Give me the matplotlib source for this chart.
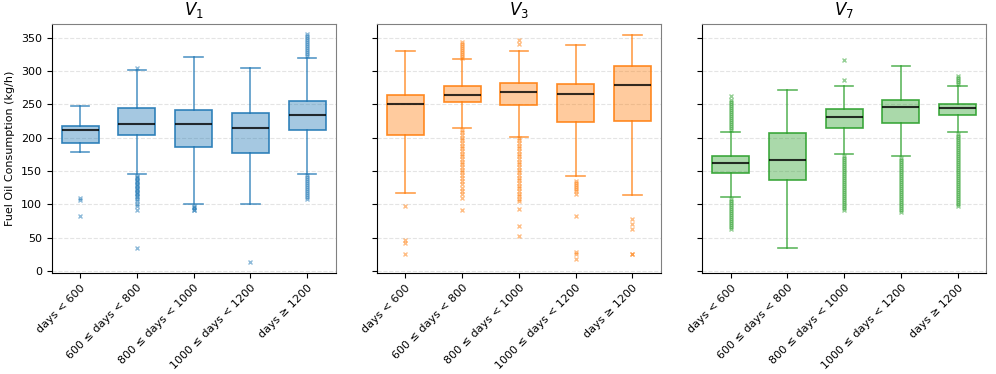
import matplotlib
matplotlib.use("Agg")
import matplotlib.pyplot as plt
from matplotlib.colors import to_rgba

# Catégories de durée
categories = ["days < 600", "600 ≤ days < 800", "800 ≤ days < 1000",
              "1000 ≤ days < 1200", "days ≥ 1200"]
vessels = ["$V_1$", "$V_3$", "$V_7$"]
colors = ["tab:blue", "tab:orange", "tab:green"]

# Statistiques : (q1, médiane, q3, moustache basse, moustache haute)
v1_q1 = [192, 204, 186, 177, 211]
v1_med = [212, 220, 221, 215, 234]
v1_q3 = [217, 244, 242, 237, 255]
v1_lo = [178, 145, 100, 101, 146]
v1_hi = [248, 301, 321, 305, 320]

v3_q1 = [204, 253, 249, 223, 225]
v3_med = [251, 264, 269, 266, 279]
v3_q3 = [264, 278, 282, 281, 307]
v3_lo = [117, 214, 201, 143, 114]
v3_hi = [330, 318, 330, 339, 354]

v7_q1 = [147, 137, 215, 222, 234]
v7_med = [162, 166, 231, 246, 245]
v7_q3 = [172, 207, 243, 257, 251]
v7_lo = [111, 35, 175, 172, 208]
v7_hi = [208, 272, 277, 308, 277]

# Valeurs aberrantes
v1_fliers = [
    [109, 106, 83],
    [305, 143, 141, 139, 137, 135, 133, 131, 129, 127, 125, 123, 121, 119,
     117, 115, 113, 111, 108, 105, 101, 97, 91, 35],
    [98, 96, 94, 92, 91],
    [13],
    [322, 325, 328, 331, 334, 337, 340, 343, 346, 349, 352, 355,
     144, 141, 138, 135, 132, 129, 126, 123, 120, 117, 114, 111, 108],
]
v3_fliers = [
    [97, 46, 42, 26],
    [320, 323, 326, 329, 332, 335, 338, 341, 344,
     212, 208, 204, 200, 196, 192, 188, 184, 180, 176, 172, 168, 164, 160,
     156, 152, 148, 144, 140, 135, 130, 125, 120, 115, 110, 91],
    [346, 340, 200, 196, 192, 188, 184, 180, 176, 172, 168, 164, 160, 156,
     152, 148, 144, 140, 136, 132, 128, 124, 120, 116, 112, 108, 105, 93,
     67, 53],
    [135, 132, 129, 126, 123, 120, 116, 82, 28, 26, 18],
    [78, 71, 63, 26, 25],
]
v7_fliers = [
    [211, 214, 217, 220, 223, 226, 229, 232, 235, 238, 241, 244, 247, 250,
     253, 256, 262, 108, 105, 102, 99, 96, 93, 90, 87, 84, 81, 78, 75, 72,
     69, 66, 63],
    [],
    [317, 286, 172, 169, 166, 163, 160, 157, 154, 151, 148, 145, 142, 139,
     136, 133, 130, 127, 124, 121, 118, 115, 112, 109, 106, 103, 100, 97,
     94, 92],
    [170, 167, 164, 161, 158, 155, 152, 149, 146, 143, 140, 137, 134, 131,
     128, 125, 122, 119, 116, 113, 110, 107, 104, 101, 98, 95, 92, 89],
    [280, 283, 286, 289, 292, 205, 202, 199, 196, 193, 190, 187, 184, 181,
     178, 175, 172, 169, 166, 163, 160, 157, 154, 151, 148, 145, 142, 139,
     136, 133, 130, 127, 124, 121, 118, 115, 112, 109, 106, 103, 100, 97],
]

data = [
    (v1_q1, v1_med, v1_q3, v1_lo, v1_hi, v1_fliers),
    (v3_q1, v3_med, v3_q3, v3_lo, v3_hi, v3_fliers),
    (v7_q1, v7_med, v7_q3, v7_lo, v7_hi, v7_fliers),
]

fig, axes = plt.subplots(1, 3, figsize=(9.96, 3.74), dpi=100, sharey=True)
fig.subplots_adjust(left=0.052, right=0.99, top=0.937, bottom=0.27, wspace=0.146)

for ax, name, col, (q1, med, q3, lo, hi, fl) in zip(axes, vessels, colors, data):
    stats = []
    for i in range(len(categories)):
        stats.append(dict(q1=q1[i], med=med[i], q3=q3[i], whislo=lo[i],
                          whishi=hi[i], fliers=fl[i], label=categories[i]))
    ax.bxp(stats, widths=0.65, patch_artist=True,
           boxprops=dict(facecolor=to_rgba(col, 0.4), edgecolor=to_rgba(col, 0.9), linewidth=1.2),
           whiskerprops=dict(color=col, alpha=0.75, linewidth=1.2),
           capprops=dict(color=col, alpha=0.75, linewidth=1.2),
           medianprops=dict(color="black", alpha=0.8, linewidth=1.5),
           flierprops=dict(marker="x", markersize=3, markeredgecolor=col,
                           alpha=0.5, markeredgewidth=1))
    ax.set_title(name, fontsize=12)
    ax.yaxis.grid(True, linestyle="--", color="lightgray", alpha=0.6)
    ax.set_axisbelow(True)
    ax.set_ylim(-3, 371)
    ax.set_xticks(range(1, 6))
    ax.set_xticklabels(categories, rotation=45, ha="right",
                       rotation_mode="anchor", fontsize=8)
    ax.tick_params(axis="y", labelsize=8)
    for s in ["top", "right"]:
        ax.spines[s].set_color("gray")

axes[0].set_ylabel("Fuel Oil Consumption (kg/h)", fontsize=8)

plt.savefig("out.png")
